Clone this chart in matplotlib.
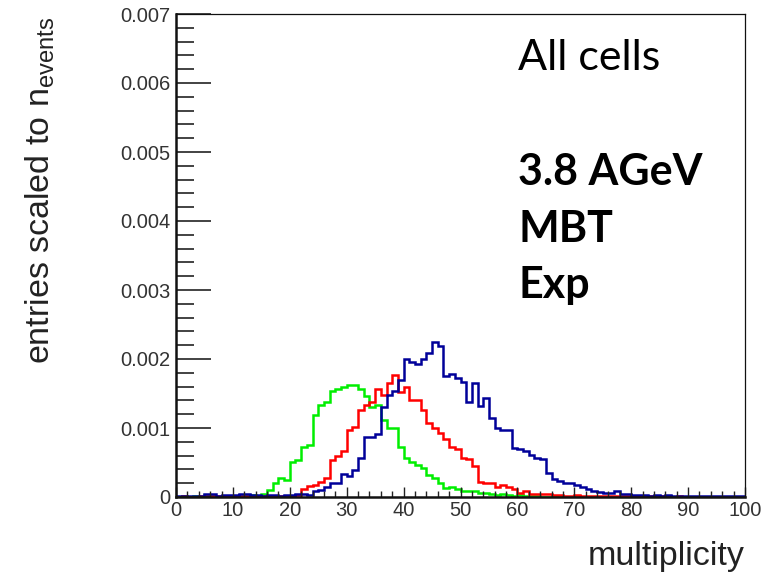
import numpy as np
import matplotlib
matplotlib.use("Agg")
import matplotlib.pyplot as plt
from matplotlib.ticker import MultipleLocator, FixedLocator

# Bin edges: 100 unit-width bins of cell multiplicity
bin_edges = np.arange(0, 101)

# Histogram contents, in units of 1e-3 (entries scaled to number of events)
green_e3 = [0.00, 0.01, 0.00, 0.01, 0.00, 0.03, 0.01, 0.00, 0.01, 0.01,
            0.00, 0.01, 0.01, 0.03, 0.01, 0.04, 0.10, 0.20, 0.27, 0.24,
            0.51, 0.53, 0.72, 0.75, 1.19, 1.33, 1.38, 1.53, 1.57, 1.60,
            1.63, 1.63, 1.56, 1.47, 1.30, 1.34, 1.12, 1.00, 1.00, 0.73,
            0.56, 0.51, 0.46, 0.42, 0.32, 0.28, 0.20, 0.13, 0.15, 0.11,
            0.08, 0.09, 0.09, 0.06, 0.06, 0.05, 0.03, 0.04, 0.03, 0.02,
            0.03, 0.01, 0.02, 0.01, 0.00, 0.00, 0.01, 0.00, 0.00, 0.00,
            0.00, 0.00, 0.00, 0.00, 0.00, 0.00, 0.00, 0.00, 0.00, 0.00,
            0.00, 0.00, 0.00, 0.00, 0.00, 0.00, 0.00, 0.00, 0.00, 0.00,
            0.00, 0.00, 0.00, 0.00, 0.00, 0.00, 0.00, 0.00, 0.00, 0.00]

red_e3 = [0.00, 0.01, 0.00, 0.00, 0.01, 0.02, 0.01, 0.01, 0.02, 0.01,
          0.01, 0.02, 0.01, 0.02, 0.01, 0.02, 0.02, 0.01, 0.02, 0.02,
          0.02, 0.03, 0.12, 0.16, 0.17, 0.22, 0.27, 0.53, 0.60, 0.66,
          0.97, 1.02, 1.26, 1.33, 1.38, 1.56, 1.48, 1.65, 1.77, 1.52,
          1.59, 1.41, 1.41, 1.26, 1.07, 1.00, 0.93, 0.84, 0.72, 0.69,
          0.56, 0.55, 0.45, 0.22, 0.21, 0.20, 0.15, 0.17, 0.15, 0.11,
          0.06, 0.09, 0.05, 0.05, 0.04, 0.04, 0.03, 0.03, 0.02, 0.02,
          0.03, 0.02, 0.02, 0.01, 0.02, 0.01, 0.02, 0.01, 0.01, 0.02,
          0.01, 0.01, 0.00, 0.01, 0.00, 0.01, 0.00, 0.00, 0.01, 0.00,
          0.00, 0.00, 0.00, 0.00, 0.00, 0.00, 0.00, 0.00, 0.00, 0.00]

blue_e3 = [0.02, 0.02, 0.02, 0.02, 0.02, 0.05, 0.04, 0.02, 0.03, 0.03,
           0.03, 0.05, 0.04, 0.03, 0.03, 0.02, 0.03, 0.03, 0.02, 0.03,
           0.03, 0.04, 0.04, 0.03, 0.09, 0.10, 0.15, 0.20, 0.20, 0.34,
           0.31, 0.39, 0.57, 0.87, 0.87, 0.92, 1.31, 1.48, 1.53, 1.70,
           2.00, 1.96, 1.93, 2.00, 2.09, 2.24, 2.19, 1.75, 1.78, 1.72,
           1.66, 1.38, 1.65, 1.32, 1.43, 1.15, 1.00, 0.97, 0.97, 0.71,
           0.70, 0.66, 0.61, 0.57, 0.55, 0.35, 0.26, 0.23, 0.21, 0.20,
           0.18, 0.15, 0.11, 0.09, 0.07, 0.06, 0.06, 0.09, 0.04, 0.04,
           0.03, 0.03, 0.03, 0.02, 0.03, 0.02, 0.03, 0.02, 0.02, 0.01,
           0.02, 0.02, 0.01, 0.02, 0.01, 0.02, 0.01, 0.01, 0.02, 0.01]

series = [
    (green_e3, "#00ee00"),
    (red_e3, "#ff0000"),
    (blue_e3, "#000099"),
]

x_ticks = np.arange(0, 101, 10)
y_ticks = np.arange(0, 0.0071, 0.001)
y_tick_labels = ["0", "0.001", "0.002", "0.003", "0.004", "0.005", "0.006", "0.007"]

W, H = 762, 579
fig = plt.figure(figsize=(W / 100, H / 100), dpi=100)
fig.patch.set_facecolor("white")

ax_left, ax_right, ax_top, ax_bottom = 176, 745, 14, 497
ax = fig.add_axes([ax_left / W, 1 - ax_bottom / H,
                   (ax_right - ax_left) / W, (ax_bottom - ax_top) / H])

for vals, col in series:
    ax.stairs(np.array(vals) * 1e-3, bin_edges, color=col, linewidth=1.8,
              baseline=None)

ax.set_xlim(0, 100)
ax.set_ylim(0, 0.007)

tick_font = dict(family=["Liberation Sans", "DejaVu Sans"], size=14.5)
ax.xaxis.set_major_locator(FixedLocator(x_ticks))
ax.xaxis.set_minor_locator(MultipleLocator(2))
ax.yaxis.set_major_locator(FixedLocator(y_ticks))
ax.yaxis.set_minor_locator(MultipleLocator(0.0002))
ax.set_xticklabels([str(v) for v in x_ticks], fontdict=tick_font, color="#333333")
ax.set_yticklabels(y_tick_labels, fontdict=tick_font, color="#333333")

ax.tick_params(axis="y", which="major", direction="in", length=25, width=1.2,
               color="#222222", pad=4)
ax.tick_params(axis="y", which="minor", direction="in", length=13, width=1.2,
               color="#222222")
ax.tick_params(axis="x", which="major", direction="in", length=7, width=1.0,
               color="#222222", pad=3)
ax.tick_params(axis="x", which="minor", direction="in", length=4, width=1.0,
               color="#222222")

for side in ("left", "bottom"):
    ax.spines[side].set_linewidth(1.8)
    ax.spines[side].set_color("#111111")
for side in ("top", "right"):
    ax.spines[side].set_linewidth(0.9)
    ax.spines[side].set_color("#111111")

label_font = ["Liberation Sans", "DejaVu Sans"]
fig.text(745 / W, 1 - 556 / H, "multiplicity", ha="right", va="center",
         fontsize=24.5, family=label_font, color="#222222")
fig.text(40 / W, 1 - 190 / H, r"entries scaled to n$_{\mathregular{events}}$",
         rotation=90, ha="center", va="center", fontsize=24.5,
         family=label_font, color="#222222")

note_font = ["Lato", "DejaVu Sans"]
fig.text(518 / W, 1 - 70 / H, "All cells", ha="left", va="baseline",
         fontsize=31, family=note_font, color="black")
for txt, ypx in (("3.8 AGeV", 185), ("MBT", 242), ("Exp", 298)):
    fig.text(518 / W, 1 - ypx / H, txt, ha="left", va="baseline",
             fontsize=31, family=note_font, fontweight="bold", color="black")

fig.savefig("out.png", dpi=100)
